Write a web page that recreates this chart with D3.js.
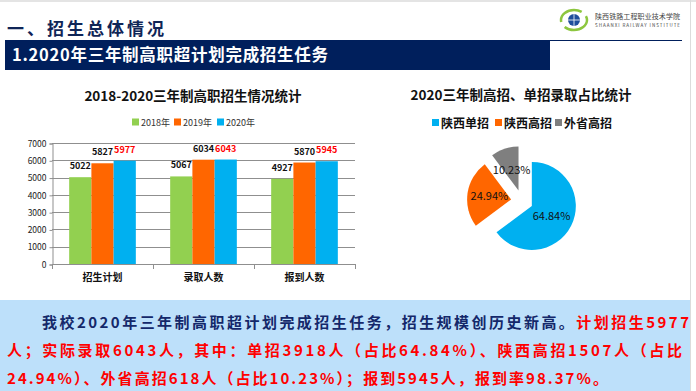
<!DOCTYPE html>
<html>
<head>
<meta charset="utf-8">
<script src="https://cdn.jsdelivr.net/npm/d3@7"></script>
<style>
  body { margin: 0; background: #fff; }
  text { font-family: "Noto Sans CJK SC", "Liberation Sans", sans-serif; }
</style>
</head>
<body>
<div id="slide"></div>
<script>
// bar chart data
var categories = ["招生计划", "录取人数", "报到人数"];
var years = ["2018年", "2019年", "2020年"];
var values2018 = [5022, 5067, 4927];
var values2019 = [5827, 6034, 5870];
var values2020 = [5977, 6043, 5945];
var yTicks = [0, 1000, 2000, 3000, 4000, 5000, 6000, 7000];
var yearColors = ["#92d050", "#ff6600", "#00b0f0"];

// pie data
var pieLabels = ["陕西单招", "陕西高招", "外省高招"];
var pieValues = [64.84, 24.94, 10.23];
var pieColors = ["#00b0f0", "#ff6600", "#7f7f7f"];

var svg = d3.select("#slide").append("svg")
  .attr("width", 696)
  .attr("height", 391);

// slide frame
svg.append("rect").attr("x", 0).attr("y", 0).attr("width", 696).attr("height", 2).attr("fill", "#e4e4e4");
svg.append("line").attr("x1", 690.5).attr("x2", 690.5).attr("y1", 0).attr("y2", 391)
  .attr("stroke", "#dcdcdc");

// header
svg.append("text")
  .attr("x", 7).attr("y", 35)
  .attr("font-size", 17).attr("font-weight", "bold")
  .attr("letter-spacing", 3)
  .attr("fill", "#0f2557")
  .text("一、招生总体情况");

svg.append("rect").attr("x", 5).attr("y", 40).attr("width", 545).attr("height", 30).attr("fill", "#001f5c");
svg.append("line").attr("x1", 550).attr("x2", 682).attr("y1", 40.5).attr("y2", 40.5)
  .attr("stroke", "#001f5c").attr("stroke-width", 1);
svg.append("text")
  .attr("x", 12).attr("y", 61)
  .attr("font-size", 16.5).attr("font-weight", "bold")
  .attr("fill", "#fff")
  .attr("textLength", 316)
  .text("1.2020年三年制高职超计划完成招生任务");

// logo
var logo = svg.append("g").attr("transform", "translate(574,20)");
logo.append("ellipse").attr("rx", 13).attr("ry", 10).attr("fill", "none")
  .attr("stroke", "#8dc63f").attr("stroke-width", 2.5).attr("stroke-dasharray", "28 6");
logo.append("circle").attr("r", 6).attr("fill", "#1f4e9c");
logo.append("line").attr("x1", -6).attr("x2", 6).attr("stroke", "#fff").attr("stroke-width", 0.8);
logo.append("line").attr("y1", -6).attr("y2", 6).attr("stroke", "#fff").attr("stroke-width", 0.8);
svg.append("text").attr("x", 595).attr("y", 19).attr("font-size", 7)
  .attr("fill", "#444").attr("textLength", 85).text("陕西铁路工程职业技术学院");
svg.append("text").attr("x", 595).attr("y", 27).attr("font-size", 4.5)
  .attr("fill", "#444").attr("textLength", 85).attr("font-family", "Liberation Serif")
  .text("SHAANXI RAILWAY INSTITUTE");

// ---------- bar chart ----------
svg.append("text")
  .attr("x", 193).attr("y", 101)
  .attr("text-anchor", "middle")
  .attr("font-size", 13.5).attr("font-weight", "bold")
  .attr("fill", "#111")
  .text("2018-2020三年制高职招生情况统计");

// legend
var barLegend = svg.append("g").attr("transform", "translate(132,122)");
var legendX = [0, 42, 85];
years.forEach(function(y, i) {
  barLegend.append("rect").attr("x", legendX[i]).attr("y", -3.5).attr("width", 7).attr("height", 7)
    .attr("fill", yearColors[i]);
  barLegend.append("text").attr("x", legendX[i] + 9).attr("y", 3.5)
    .attr("font-size", 9).attr("fill", "#333").text(y);
});

var xScale = d3.scaleBand().domain(categories).range([52, 355]).padding(0);
var subScale = d3.scaleBand().domain(years)
  .range([xScale.bandwidth() * 0.17, xScale.bandwidth() * 0.83]).padding(0);
var yScale = d3.scaleLinear().domain([0, 7000]).range([264, 143]);

var bars = svg.append("g");

// gridlines
bars.selectAll(".grid").data(yTicks).enter().append("line")
  .attr("x1", 52).attr("x2", 355)
  .attr("y1", d => Math.round(yScale(d)) + 0.5)
  .attr("y2", d => Math.round(yScale(d)) + 0.5)
  .attr("stroke", "#8f8f8f").attr("stroke-width", 1);

// y axis
var yAxis = d3.axisLeft(yScale).tickValues(yTicks).tickFormat(d3.format("d"))
  .tickSize(3).tickPadding(3);
var yAxisG = bars.append("g").attr("transform", "translate(52.5,0.5)").call(yAxis);
yAxisG.select(".domain").attr("stroke", "#8f8f8f");
yAxisG.selectAll(".tick line").attr("stroke", "#8f8f8f");
yAxisG.selectAll(".tick text").attr("font-size", 8.5).attr("fill", "#222")
  .attr("font-family", "Liberation Sans");

// x axis ticks
var xEdges = categories.map(c => xScale(c)).concat([355]);
bars.selectAll(".xtick").data(xEdges).enter().append("line")
  .attr("x1", d => Math.round(d) + 0.5).attr("x2", d => Math.round(d) + 0.5)
  .attr("y1", 264).attr("y2", 269)
  .attr("stroke", "#8f8f8f");
bars.selectAll(".xlabel").data(categories).enter().append("text")
  .attr("x", d => xScale(d) + xScale.bandwidth() / 2)
  .attr("y", 281)
  .attr("text-anchor", "middle")
  .attr("font-size", 10).attr("font-weight", "bold").attr("fill", "#111")
  .text(d => d);

var series = [values2018, values2019, values2020];
series.forEach(function(vals, s) {
  var g = bars.append("g");
  g.selectAll("rect").data(vals).enter().append("rect")
    .attr("x", (d, i) => xScale(categories[i]) + subScale(years[s]))
    .attr("y", d => yScale(d))
    .attr("width", subScale.bandwidth())
    .attr("height", d => yScale(0) - yScale(d))
    .attr("fill", yearColors[s]);
  g.selectAll("text").data(vals).enter().append("text")
    .attr("x", (d, i) => xScale(categories[i]) + subScale(years[s]) + subScale.bandwidth() / 2)
    .attr("y", d => yScale(d) - 8)
    .attr("text-anchor", "middle")
    .attr("font-family", "Liberation Sans")
    .attr("font-size", 9).attr("font-weight", "bold")
    .attr("fill", s === 2 ? "#ff0000" : "#111")
    .text(d => d);
});

// ---------- pie chart ----------
svg.append("text")
  .attr("x", 521).attr("y", 100)
  .attr("text-anchor", "middle")
  .attr("font-size", 13.5).attr("font-weight", "bold")
  .attr("fill", "#111")
  .text("2020三年制高招、单招录取占比统计");

var pieLegend = svg.append("g").attr("transform", "translate(432,123)");
var pieLegendX = [0, 63, 123];
pieLabels.forEach(function(l, i) {
  pieLegend.append("rect").attr("x", pieLegendX[i]).attr("y", -4).attr("width", 7).attr("height", 7)
    .attr("fill", pieColors[i]);
  pieLegend.append("text").attr("x", pieLegendX[i] + 9).attr("y", 4.5)
    .attr("font-size", 12).attr("font-weight", "bold").attr("fill", "#111").text(l);
});

var radius = 44;
var explode = 11;
var pie = d3.pie().sort(null).value(d => d);
var arc = d3.arc().innerRadius(0).outerRadius(radius);
var pieG = svg.append("g").attr("transform", "translate(522,201)");
var slices = pieG.selectAll("g").data(pie(pieValues)).enter().append("g")
  .attr("transform", function(d) {
    var a = (d.startAngle + d.endAngle) / 2;
    return "translate(" + (explode * Math.sin(a)) + "," + (-explode * Math.cos(a)) + ")";
  });
slices.append("path")
  .attr("d", arc)
  .attr("fill", (d, i) => pieColors[i]);
slices.append("text")
  .attr("transform", d => "translate(" + arc.centroid(d) + ")")
  .attr("dy", "0.35em")
  .attr("text-anchor", "middle")
  .attr("font-family", "Liberation Sans")
  .attr("font-size", 11).attr("fill", "#111")
  .text(d => d.data.toFixed(2) + "%");

// ---------- summary box ----------
svg.append("rect").attr("x", 0).attr("y", 300).attr("width", 690).attr("height", 91).attr("fill", "#bde0fa");

var line1 = svg.append("text").attr("x", 42).attr("y", 328)
  .attr("font-size", 15).attr("font-weight", "bold").attr("textLength", 647);
line1.append("tspan").attr("fill", "#14286a").text("我校2020年三年制高职超计划完成招生任务，招生规模创历史新高。");
line1.append("tspan").attr("fill", "#ff0000").text("计划招生5977");

svg.append("text").attr("x", 7).attr("y", 356)
  .attr("font-size", 15).attr("font-weight", "bold").attr("fill", "#ff0000").attr("textLength", 675)
  .text("人；实际录取6043人，其中：单招3918人（占比64.84%）、陕西高招1507人（占比");

svg.append("text").attr("x", 7).attr("y", 384)
  .attr("font-size", 15).attr("font-weight", "bold").attr("fill", "#ff0000").attr("textLength", 601)
  .text("24.94%）、外省高招618人（占比10.23%）；报到5945人，报到率98.37%。");
</script>
</body>
</html>
